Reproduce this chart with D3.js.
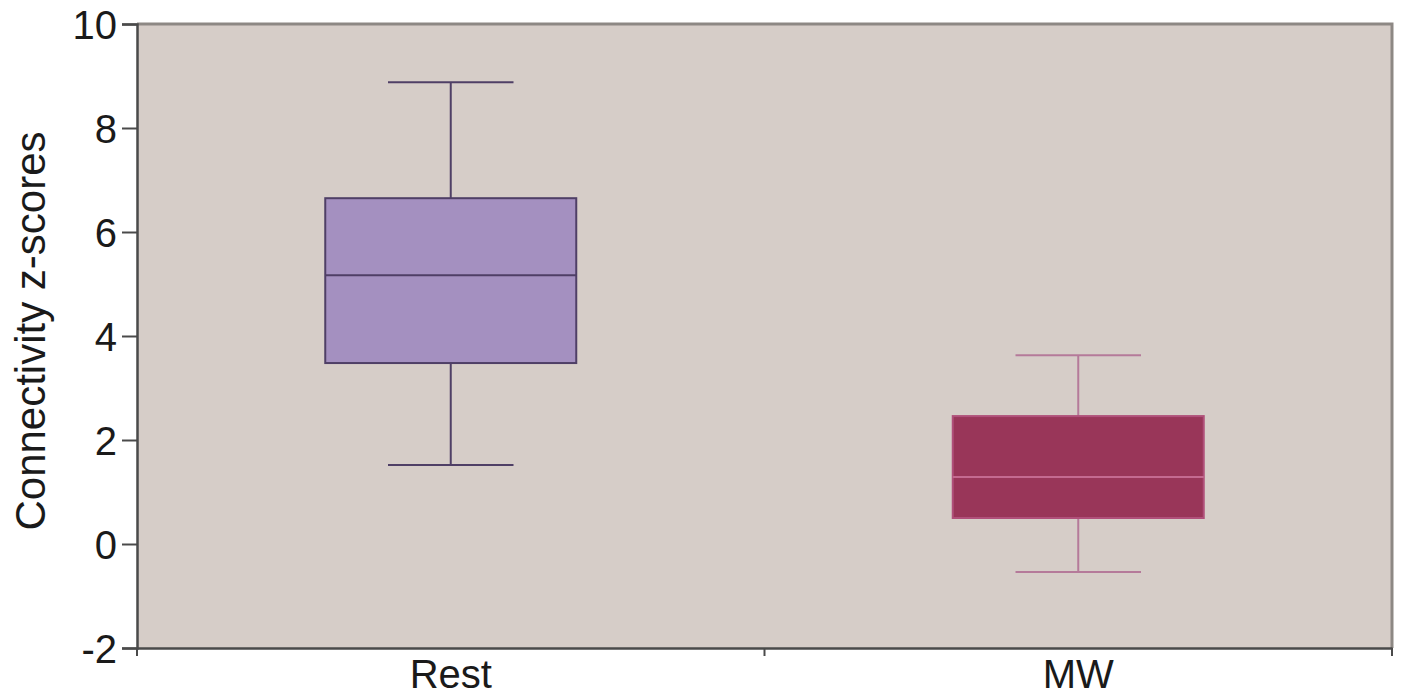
<!DOCTYPE html>
<html>
<head>
<meta charset="UTF-8">
<title>Connectivity z-scores</title>
<script src="https://d3js.org/d3.v7.min.js"></script>
<style>
  body { margin: 0; background: #fff; }
  text { font-family: "Liberation Sans", Arial, sans-serif; fill: #1a1a1a; }
</style>
</head>
<body>
<svg width="1402" height="695"></svg>
<script>
const groups = ["Rest", "MW"];
const whiskerLow = [1.52, -0.54];
const q1 = [3.48, 0.50];
const median = [5.17, 1.29];
const q3 = [6.65, 2.46];
const whiskerHigh = [8.88, 3.63];
const yTicks = [-2, 0, 2, 4, 6, 8, 10];

const boxFill = ["#a490c0", "#993659"];
const boxStroke = ["#4f3f66", "#b0507a"];
const whiskerStroke = ["#4f3f66", "#b57a9a"];
const medianStroke = ["#4f3f66", "#c46a90"];

const data = groups.map((g, i) => ({
  g, lo: whiskerLow[i], q1: q1[i], med: median[i], q3: q3[i], hi: whiskerHigh[i], i
}));

const margin = { top: 24, right: 10, bottom: 47, left: 137 },
      width = 1402 - margin.left - margin.right,
      height = 695 - margin.top - margin.bottom;

const svg = d3.select("svg")
  .append("g")
  .attr("transform", `translate(${margin.left},${margin.top})`);

const x = d3.scaleBand().domain(groups).range([0, width]).padding(0);
const y = d3.scaleLinear().domain([-2, 10]).range([height, 0]);

// plot background + frame
svg.append("rect")
  .attr("x", 0).attr("y", 0)
  .attr("width", width).attr("height", height)
  .attr("fill", "#d6cdc8");
svg.append("path")
  .attr("d", `M0,${y(10)}H${width}V${height}`)
  .attr("fill", "none").attr("stroke", "#8d8884").attr("stroke-width", 3);

const boxW = x.bandwidth() * 0.40;
const capW = x.bandwidth() * 0.20;

const box = svg.selectAll(".box").data(data).enter().append("g")
  .attr("transform", d => `translate(${x(d.g) + x.bandwidth() / 2},0)`);

box.append("line")
  .attr("x1", 0).attr("x2", 0)
  .attr("y1", d => y(d.hi)).attr("y2", d => y(d.lo))
  .attr("stroke", d => whiskerStroke[d.i]).attr("stroke-width", 2);

box.selectAll(".cap").data(d => [d.lo, d.hi].map(v => ({ v, i: d.i }))).enter()
  .append("line")
  .attr("x1", -capW / 2).attr("x2", capW / 2)
  .attr("y1", c => y(c.v)).attr("y2", c => y(c.v))
  .attr("stroke", c => whiskerStroke[c.i]).attr("stroke-width", 2);

box.append("rect")
  .attr("x", -boxW / 2).attr("width", boxW)
  .attr("y", d => y(d.q3)).attr("height", d => y(d.q1) - y(d.q3))
  .attr("fill", d => boxFill[d.i])
  .attr("stroke", d => boxStroke[d.i]).attr("stroke-width", 2);

box.append("line")
  .attr("x1", -boxW / 2).attr("x2", boxW / 2)
  .attr("y1", d => y(d.med)).attr("y2", d => y(d.med))
  .attr("stroke", d => medianStroke[d.i]).attr("stroke-width", 2);

// axes
const yAxis = svg.append("g")
  .call(d3.axisLeft(y).tickValues(yTicks).tickSize(15).tickPadding(5).tickFormat(d => String(d)));
yAxis.select(".domain").attr("stroke", "#4a4a4a").attr("stroke-width", 2.5);
yAxis.selectAll(".tick line").attr("stroke", "#4a4a4a").attr("stroke-width", 2);
yAxis.selectAll("text").style("font-size", "40px").attr("fill", "#1a1a1a").attr("dy", "0.36em");

const xAxis = svg.append("g")
  .attr("transform", `translate(0,${height})`)
  .call(d3.axisBottom(x).tickSize(0).tickPadding(12));
xAxis.select(".domain").attr("stroke", "#4a4a4a").attr("stroke-width", 2.5);
xAxis.selectAll("text").style("font-size", "40px").attr("fill", "#1a1a1a");

// ticks at band edges
const edges = groups.map(g => x(g)).concat([width]);
xAxis.selectAll(".edge").data(edges).enter().append("line")
  .attr("x1", d => d).attr("x2", d => d)
  .attr("y1", 0).attr("y2", 8)
  .attr("stroke", "#4a4a4a").attr("stroke-width", 2);

svg.append("text")
  .attr("transform", `translate(${30 - margin.left},${331 - margin.top}) rotate(-90)`)
  .attr("text-anchor", "middle")
  .attr("dy", "0.36em")
  .style("font-size", "42px")
  .text("Connectivity z-scores");
</script>
</body>
</html>
